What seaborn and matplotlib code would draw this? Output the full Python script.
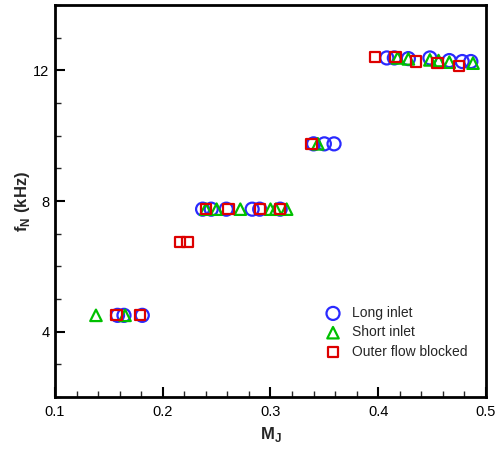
import matplotlib
matplotlib.use("Agg")
import matplotlib.pyplot as plt
import seaborn as sns
import numpy as np
from matplotlib.ticker import MultipleLocator

# ---- data ----
long_x = [0.158, 0.164, 0.181,
          0.237, 0.245, 0.259, 0.283, 0.290, 0.309,
          0.340, 0.350, 0.359,
          0.408, 0.415, 0.428, 0.448, 0.466, 0.478, 0.486]
long_y = [4.5, 4.5, 4.5,
          7.75, 7.75, 7.75, 7.75, 7.75, 7.75,
          9.75, 9.75, 9.75,
          12.38, 12.38, 12.36, 12.38, 12.3, 12.27, 12.27]

short_x = [0.138, 0.165,
           0.240, 0.250, 0.272, 0.300, 0.305, 0.315,
           0.344,
           0.418, 0.428, 0.448, 0.456, 0.466, 0.488]
short_y = [4.5, 4.5,
           7.75, 7.75, 7.75, 7.75, 7.75, 7.75,
           9.75,
           12.38, 12.35, 12.32, 12.3, 12.25, 12.22]

outer_x = [0.157, 0.179,
           0.216, 0.223,
           0.240, 0.261, 0.290, 0.309,
           0.338,
           0.397, 0.416, 0.435, 0.455, 0.475]
outer_y = [4.5, 4.5,
           6.75, 6.75,
           7.75, 7.75, 7.75, 7.75,
           9.75,
           12.4, 12.4, 12.27, 12.23, 12.13]

labels = ["Long inlet", "Short inlet", "Outer flow blocked"]
x_ticks = [0.1, 0.2, 0.3, 0.4, 0.5]
y_ticks = [4, 8, 12]

# ---- style ----
sns.set_style("ticks")
plt.rcParams["font.family"] = ["Liberation Sans", "DejaVu Sans"]

fig = plt.figure(figsize=(5.02, 4.49), dpi=100)
ax = fig.add_axes([0.1096, 0.1158, 0.8584, 0.873])

series = [
    (long_x, long_y, "o", "#2a2aff", 88),
    (short_x, short_y, "^", "#00c000", 68),
    (outer_x, outer_y, "s", "#dd0000", 55),
]
for (xs, ys, mk, col, s), lab in zip(series, labels):
    sns.scatterplot(x=xs, y=ys, marker=mk, s=s, color=col, facecolor="none",
                    edgecolor=col, linewidth=1.6, label=lab, ax=ax, legend=False,
                    zorder=3)

ax.set_xlim(0.1, 0.5)
ax.set_ylim(2.0, 14.0)
ax.set_xticks(x_ticks)
ax.set_xticklabels([f"{v:.1f}" for v in x_ticks])
ax.set_yticks(y_ticks)
ax.xaxis.set_minor_locator(MultipleLocator(0.02))
ax.yaxis.set_minor_locator(MultipleLocator(1))
ax.tick_params(which="major", direction="in", length=7, width=1.5, labelsize=10.5,
               colors="black")
ax.tick_params(axis="x", which="major", pad=6)
ax.tick_params(axis="y", which="major", pad=4)
ax.tick_params(which="minor", direction="in", length=4, width=1.0)
for sp in ax.spines.values():
    sp.set_linewidth(2.0)
    sp.set_color("black")
    sp.set_visible(True)

ax.set_xlabel("M$_\\mathregular{J}$", fontsize=12, fontweight="bold", labelpad=4)
ax.set_ylabel("f$_\\mathregular{N}$ (kHz)", fontsize=12, fontweight="bold", labelpad=1)

ax.legend(loc="upper left", bbox_to_anchor=(0.629, 0.232), frameon=False,
          fontsize=10, handlelength=1.0, handletextpad=0.85, labelspacing=0.38,
          borderaxespad=0, borderpad=0, scatterpoints=1)

fig.savefig("out.png", dpi=100)
